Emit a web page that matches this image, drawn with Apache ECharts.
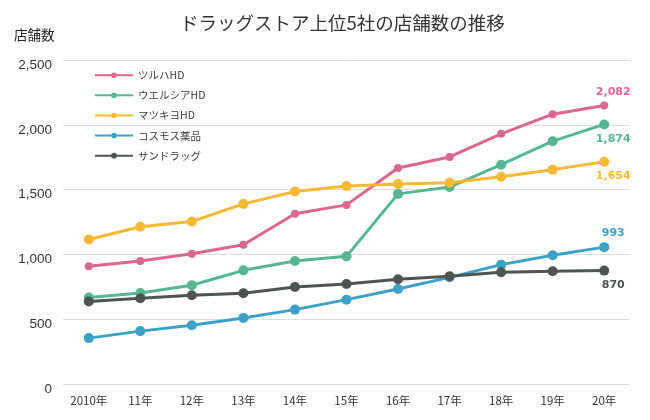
<!DOCTYPE html>
<html>
<head>
<meta charset="utf-8">
<script src="https://cdn.jsdelivr.net/npm/echarts@6/dist/echarts.min.js"></script>
<style>html,body{margin:0;padding:0;background:#fff;}#c{width:650px;height:420px;}</style>
</head>
<body>
<div id="c"></div>
<script>
var years = ['2010年','11年','12年','13年','14年','15年','16年','17年','18年','19年','20年'];
var seriesNames = ['ツルハHD','ウエルシアHD','マツキヨHD','コスモス薬品','サンドラッグ'];
var tsuruha   = [908, 949, 1005, 1074, 1313, 1382, 1667, 1752, 1930, 2082, 2149];
var welcia    = [667, 702, 762, 877, 949, 985, 1467, 1520, 1692, 1874, 2003];
var matsukiyo = [1115, 1213, 1254, 1390, 1485, 1528, 1544, 1553, 1600, 1654, 1715];
var cosmos    = [354, 408, 454, 510, 574, 651, 733, 823, 921, 993, 1056];
var sundrug   = [636, 662, 685, 700, 749, 772, 808, 831, 862, 870, 875];
var endLabels = [2082, 1874, 1654, 993, 870];
var yTicks = [0, 500, 1000, 1500, 2000, 2500];

var colors = ['#dc6690', '#56b690', '#f6b935', '#3ca1c7', '#4e5550'];
var values = [tsuruha, welcia, matsukiyo, cosmos, sundrug];
var labelPos = ['top', 'bottom', 'bottom', 'top', 'bottom'];
var symSizes = [8, 10, 10, 10, 10];

var chart = echarts.init(document.getElementById('c'), null, {renderer: 'canvas'});
var series = values.map(function (arr, i) {
  return {
    name: seriesNames[i],
    type: 'line',
    data: arr,
    symbol: 'circle',
    symbolSize: symSizes[i],
    lineStyle: {width: 3, color: colors[i]},
    itemStyle: {color: colors[i]},
    emphasis: {disabled: true},
    label: {
      show: true,
      position: labelPos[i],
      distance: 4,
      offset: [9, 0],
      color: colors[i],
      fontFamily: 'DejaVu Sans',
      fontWeight: 'bold',
      fontSize: 11,
      formatter: function (p) {
        return p.dataIndex === arr.length - 1 ? endLabels[i].toLocaleString('en-US') : '';
      }
    }
  };
});

chart.setOption({
  animation: false,
  backgroundColor: '#fff',
  textStyle: {fontFamily: '"Noto Sans CJK JP", sans-serif'},
  title: [
    {text: 'ドラッグストア上位5社の店舗数の推移', left: 175, top: 8,
     textStyle: {fontSize: 18.5, fontWeight: 'normal', color: '#333', lineHeight: 20}},
    {text: '店舗数', left: 9, top: 22,
     textStyle: {fontSize: 13.5, fontWeight: 'normal', color: '#222', lineHeight: 16}}
  ],
  legend: {
    data: seriesNames,
    orient: 'vertical',
    left: 89, top: 65,
    itemWidth: 38, itemHeight: 7, itemGap: 9.6,
    textStyle: {fontSize: 10.5, color: '#3a3a3a'}
  },
  grid: {left: 63, right: 20, top: 60, bottom: 36},
  xAxis: {
    type: 'category',
    data: years,
    boundaryGap: true,
    axisLine: {show: false},
    axisTick: {show: false},
    axisLabel: {color: '#333', fontSize: 11.5, margin: 11}
  },
  yAxis: {
    type: 'value',
    min: yTicks[0], max: yTicks[yTicks.length - 1], interval: 500,
    axisLine: {show: false},
    axisTick: {show: false},
    splitLine: {lineStyle: {color: '#dddddd', width: 1}},
    axisLabel: {
      color: '#333', fontSize: 13.5, margin: 11,
      fontFamily: '"Liberation Sans", Arial, sans-serif',
      verticalAlign: 'top', lineHeight: 10,
      formatter: function (v) { return v.toLocaleString('en-US'); }
    }
  },
  series: series
});
</script>
</body>
</html>
